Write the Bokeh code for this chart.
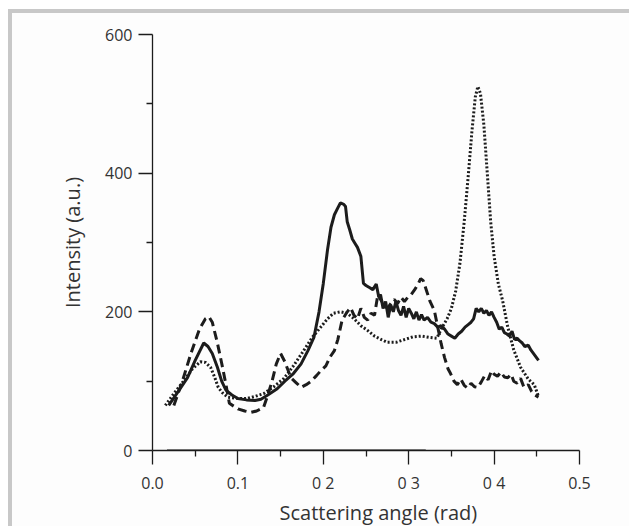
from bokeh.plotting import figure
from bokeh.models import FixedTicker, Range1d, Title
from bokeh.embed import file_html
from bokeh.resources import INLINE

# ---- data ----
solid_x = [0.019,0.03,0.041,0.05,0.06,0.065,0.07,0.076,0.081,0.086,0.093,0.1,0.11,0.12,0.127,0.135,0.146,0.155,0.165,0.174,0.182,0.189,0.195,0.2,0.205,0.209,0.213,0.217,0.22,0.224,0.226,0.228,0.231,0.234,0.237,0.24,0.244,0.247,0.25,0.254,0.258,0.262,0.265,0.267,0.27,0.273,0.276,0.279,0.282,0.285,0.288,0.291,0.294,0.297,0.3,0.303,0.306,0.309,0.312,0.315,0.318,0.322,0.326,0.33,0.334,0.338,0.342,0.346,0.35,0.354,0.358,0.362,0.366,0.37,0.373,0.376,0.379,0.382,0.385,0.388,0.391,0.394,0.397,0.4,0.403,0.406,0.409,0.412,0.415,0.418,0.421,0.424,0.427,0.43,0.433,0.436,0.44,0.443,0.446,0.449,0.452]
solid_y = [65,85,105,130,155,150,140,120,100,87,80,75,73,72,74,80,89,100,111,125,144,163,200,241,290,322,340,350,357,355,352,330,318,305,299,293,280,241,238,235,232,240,221,225,205,215,192,210,200,215,202,195,208,192,205,198,190,200,188,196,188,192,185,183,178,180,175,168,165,162,168,172,178,182,185,190,205,200,205,198,202,195,200,192,185,175,178,170,168,165,172,160,162,158,155,150,152,145,140,135,130]

dotted_x = [0.015,0.025,0.037,0.047,0.056,0.062,0.068,0.073,0.077,0.082,0.088,0.1,0.111,0.12,0.13,0.142,0.154,0.165,0.177,0.187,0.197,0.205,0.212,0.22,0.228,0.236,0.244,0.252,0.26,0.268,0.275,0.285,0.295,0.305,0.315,0.325,0.333,0.338,0.345,0.35,0.355,0.36,0.365,0.37,0.374,0.378,0.381,0.384,0.388,0.392,0.396,0.4,0.405,0.41,0.416,0.423,0.431,0.44,0.447,0.452]
dotted_y = [65,82,101,118,128,127,120,105,91,83,77,75,75,78,82,92,104,122,144,163,178,190,198,200,198,190,180,173,165,160,156,156,160,164,165,163,162,175,190,205,230,270,330,400,460,510,525,515,470,400,330,280,240,216,178,145,120,103,95,78]

dashed_x = [0.025,0.035,0.045,0.055,0.062,0.066,0.07,0.076,0.082,0.086,0.09,0.1,0.108,0.115,0.122,0.13,0.135,0.14,0.145,0.15,0.155,0.162,0.168,0.174,0.18,0.186,0.192,0.197,0.203,0.208,0.213,0.217,0.222,0.228,0.232,0.236,0.24,0.244,0.248,0.252,0.256,0.26,0.264,0.267,0.271,0.275,0.279,0.283,0.287,0.291,0.295,0.299,0.303,0.307,0.311,0.314,0.317,0.321,0.325,0.33,0.334,0.338,0.342,0.346,0.349,0.353,0.357,0.361,0.365,0.369,0.373,0.377,0.381,0.385,0.389,0.393,0.397,0.4,0.404,0.408,0.412,0.416,0.42,0.423,0.427,0.431,0.435,0.44,0.444,0.448,0.452]
dashed_y = [65,100,140,175,190,193,185,155,120,95,68,60,57,55,57,62,80,100,125,140,128,105,98,91,95,100,108,115,122,135,144,160,188,200,206,195,190,205,192,188,198,195,226,218,210,205,212,218,212,221,215,221,225,232,240,248,245,230,215,202,178,154,134,118,111,100,95,103,94,90,97,92,91,99,108,102,115,110,107,113,106,105,110,100,97,104,91,95,85,80,77]

base_x = [0.017, 0.32]
base_y = [0, 0]

x_ticks = [0.0, 0.1, 0.2, 0.3, 0.4, 0.5]
x_labels = ["0.0", "0.1", "0 2", "0 3", "0 4", "0.5"]
x_minor = [0.05, 0.15, 0.25, 0.35, 0.45]
y_ticks = [0, 200, 400, 600]
y_minor = [100, 300, 500]

FONT = "Open Sans"
TXT = "#333333"
INK = "#1c1c1c"

BG = ("linear-gradient(#ffffff,#ffffff) 0 0 / 100% 9px no-repeat, "
      "linear-gradient(#ffffff,#ffffff) 0 0 / 8px 100% no-repeat, "
      "linear-gradient(#c8c8c8,#c8c8c8) 8px 9px / 4px 100% no-repeat, "
      "linear-gradient(#c8c8c8,#c8c8c8) 8px 9px / 100% 4px no-repeat, "
      "#fdfdfd")

p = figure(width=629, height=526, output_backend="svg", toolbar_location=None,
           x_range=Range1d(0, 0.5), y_range=Range1d(0, 600),
           min_border_left=152, min_border_right=50, min_border_top=34, min_border_bottom=76)
p.styles = {"background": BG}
p.background_fill_color = None
p.border_fill_color = None
p.outline_line_color = None
p.grid.visible = False

p.line(base_x, base_y, line_color=INK, line_width=2)
p.line(dotted_x, dotted_y, line_color=INK, line_width=3, line_dash="2 2")
p.line(dashed_x, dashed_y, line_color=INK, line_width=3, line_dash="9 5")
p.line(solid_x, solid_y, line_color=INK, line_width=3)

xa = p.xaxis[0]
xa.ticker = FixedTicker(ticks=x_ticks, minor_ticks=x_minor)
xa.major_label_overrides = {t: l for t, l in zip(x_ticks, x_labels)}

ya = p.yaxis[0]
ya.ticker = FixedTicker(ticks=y_ticks, minor_ticks=y_minor)
ya.axis_label = "Intensity (a.u.)"

for ax in (xa, ya):
    ax.axis_line_color = INK
    ax.axis_line_width = 1.3
    ax.major_tick_line_color = INK
    ax.minor_tick_line_color = INK
    ax.major_tick_line_width = 1.3
    ax.minor_tick_line_width = 1.3
    ax.major_tick_in = 0
    ax.major_tick_out = 14
    ax.minor_tick_in = 0
    ax.minor_tick_out = 6
    ax.major_label_text_font = FONT
    ax.major_label_text_font_size = "16px"
    ax.major_label_text_color = TXT
    ax.axis_label_text_font = FONT
    ax.axis_label_text_font_size = "20px"
    ax.axis_label_text_font_style = "normal"
    ax.axis_label_text_color = TXT

xa.major_label_standoff = 7
ya.major_label_standoff = 6
ya.axis_label_standoff = 16

xt = Title(text="Scattering angle (rad)", align="left", offset=127, standoff=0,
           text_font=FONT, text_font_size="20px", text_font_style="normal",
           text_color=TXT)
p.add_layout(xt, "below")

html = file_html(p, INLINE)
html = html.replace("<head>", "<head><style>html,body{margin:0;padding:0;overflow:hidden;}</style>", 1)
open("out.html", "w").write(html)
